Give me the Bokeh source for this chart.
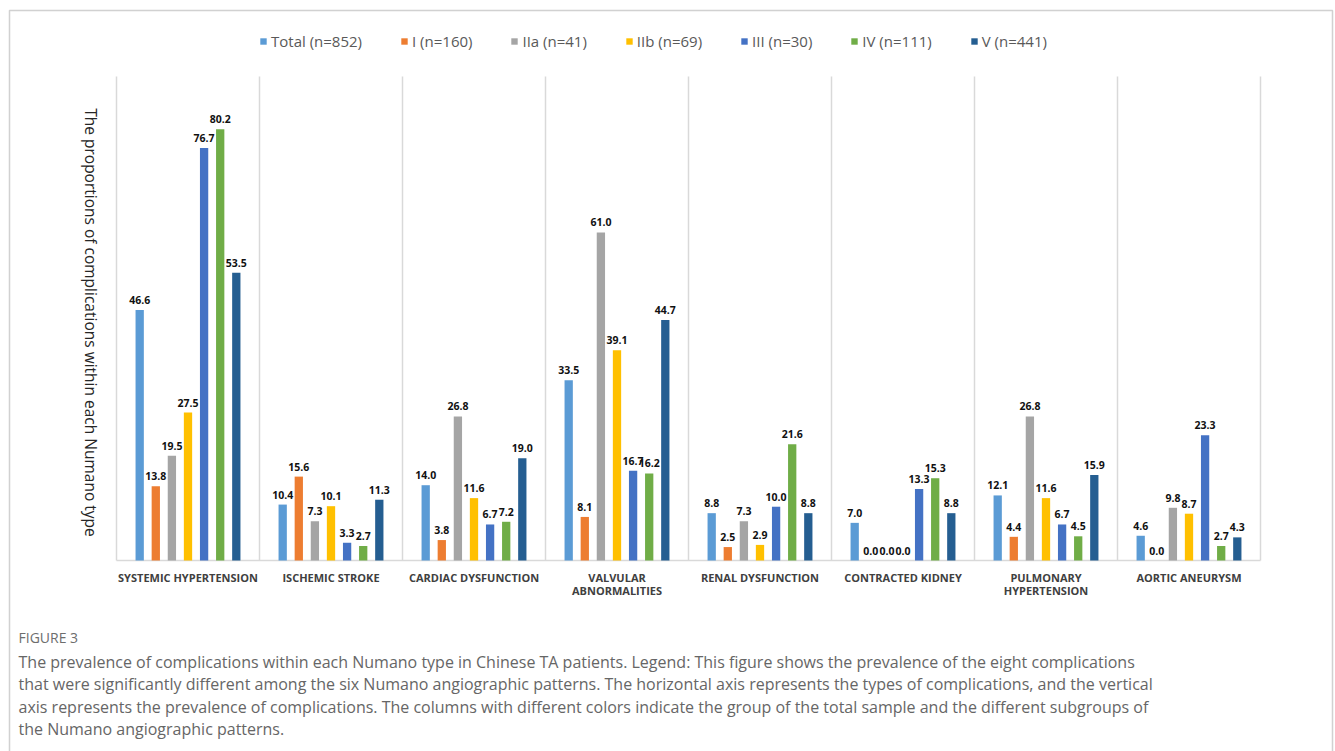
import math
import numpy as np
from bokeh.plotting import figure
from bokeh.models import (ColumnDataSource, Range1d, Legend, LegendItem, Label, BoxAnnotation)
from bokeh.core.properties import value
from bokeh.embed import file_html
from bokeh.resources import INLINE

categories = ["SYSTEMIC HYPERTENSION", "ISCHEMIC STROKE", "CARDIAC DYSFUNCTION",
              "VALVULAR ABNORMALITIES", "RENAL DYSFUNCTION", "CONTRACTED KIDNEY",
              "PULMONARY HYPERTENSION", "AORTIC ANEURYSM"]
category_line1 = ["SYSTEMIC HYPERTENSION", "ISCHEMIC STROKE", "CARDIAC DYSFUNCTION",
                  "VALVULAR", "RENAL DYSFUNCTION", "CONTRACTED KIDNEY",
                  "PULMONARY", "AORTIC ANEURYSM"]
category_line2 = ["", "", "", "ABNORMALITIES", "", "", "HYPERTENSION", ""]

series_names = ["Total (n=852)", "I (n=160)", "IIa (n=41)", "IIb (n=69)",
                "III (n=30)", "IV (n=111)", "V (n=441)"]
total = [46.6, 10.4, 14.0, 33.5, 8.8, 7.0, 12.1, 4.6]
type_i = [13.8, 15.6, 3.8, 8.1, 2.5, 0.0, 4.4, 0.0]
type_iia = [19.5, 7.3, 26.8, 61.0, 7.3, 0.0, 26.8, 9.8]
type_iib = [27.5, 10.1, 11.6, 39.1, 2.9, 0.0, 11.6, 8.7]
type_iii = [76.7, 3.3, 6.7, 16.7, 10.0, 13.3, 6.7, 23.3]
type_iv = [80.2, 2.7, 7.2, 16.2, 21.6, 15.3, 4.5, 2.7]
type_v = [53.5, 11.3, 19.0, 44.7, 8.8, 8.8, 15.9, 4.3]
series_values = [total, type_i, type_iia, type_iib, type_iii, type_iv, type_v]
colors = ["#5B9BD5", "#ED7D31", "#A5A5A5", "#FFC000", "#4472C4", "#70AD47", "#255E91"]

y_max = 90
y_title = "The proportions of complications within each Numano type"
caption_head = "FIGURE 3"
caption_lines = [
    "The prevalence of complications within each Numano type in Chinese TA patients. Legend: This figure shows the prevalence of the eight complications",
    "that were significantly different among the six Numano angiographic patterns. The horizontal axis represents the types of complications, and the vertical",
    "axis represents the prevalence of complications. The columns with different colors indicate the group of the total sample and the different subgroups of",
    "the Numano angiographic patterns.",
]

# ---- layout (pixels) ----
W, H = 1335, 751
plot_left, plot_right, plot_top, plot_bottom = 116, 1260, 76, 560
n = len(categories)
px_x = (plot_right - plot_left) / n
px_y = (plot_bottom - plot_top) / y_max

p = figure(width=W, height=H, output_backend="svg", toolbar_location=None,
           x_axis_location=None, y_axis_location=None,
           x_range=Range1d(-plot_left / px_x, n + (W - plot_right) / px_x),
           y_range=Range1d(-(H - plot_bottom) / px_y, y_max + plot_top / px_y),
           min_border=0, min_border_left=0, min_border_right=0,
           min_border_top=0, min_border_bottom=0)
p.outline_line_color = None
p.xgrid.visible = False
p.ygrid.visible = False
p.background_fill_color = "white"
p.border_fill_color = "white"

centers = np.arange(n) + 0.5
bounds = np.arange(n + 1)

# category separators (vertical grid) and baseline
p.segment(x0=bounds, y0=np.zeros(n + 1), x1=bounds, y1=np.full(n + 1, y_max),
          line_color="#d9d9d9", line_width=1.5)
p.segment(x0=[0], y0=[0], x1=[n], y1=[0], line_color="#d9d9d9", line_width=1.5)

# category labels
cat_src = ColumnDataSource(dict(x=centers, y=np.zeros(n), l1=category_line1, l2=category_line2))
for col, off in (("l1", 9), ("l2", 22)):
    p.text(x="x", y="y", text=col, source=cat_src, text_align="center", text_baseline="top",
           y_offset=off, text_font=value("Open Sans"), text_font_style="bold",
           text_font_size="11px", text_color="#404040")

step = 0.1126
bar_w = 0.058
renderers = []
for k, (name, vals, col) in enumerate(zip(series_names, series_values, colors)):
    off = (k - 3) * step
    src = ColumnDataSource(dict(x=centers + off, val=vals, lbl=[f"{v:.1f}" for v in vals]))
    r = p.vbar(x="x", top="val", width=bar_w, source=src, fill_color=col, line_color=None)
    p.text(x="x", y="val", text="lbl", source=src,
           text_align="center", text_baseline="bottom", y_offset=-6,
           text_font=value("Open Sans"), text_font_style="bold",
           text_font_size="10.5px", text_color="#111111")
    renderers.append(r)

legend = Legend(items=[LegendItem(label=nm, renderers=[r]) for nm, r in zip(series_names, renderers)],
                orientation="horizontal", location=(259, H - 51),
                glyph_width=8, glyph_height=8, label_standoff=4, spacing=38,
                label_text_font="Open Sans", label_text_font_size="15px",
                label_text_color="#595959", label_height=16,
                border_line_color=None, background_fill_alpha=0, padding=0, margin=0)
p.add_layout(legend)

p.add_layout(Label(x=90, y=H - 322, x_units="screen", y_units="screen", text=y_title,
                   angle=-math.pi / 2, text_align="center", text_baseline="middle",
                   text_font="Open Sans", text_font_size="15.5px", text_color="#262626"))

p.add_layout(Label(x=18, y=H - 637, x_units="screen", y_units="screen", text=caption_head,
                   text_align="left", text_baseline="middle",
                   text_font="Open Sans", text_font_size="14px", text_color="#6d6d6d"))
for j, line in enumerate(caption_lines):
    p.add_layout(Label(x=18, y=H - 661 - 22.6 * j, x_units="screen", y_units="screen", text=line,
                       text_align="left", text_baseline="middle",
                       text_font="Open Sans", text_font_size="16px", text_color="#666666"))

p.add_layout(BoxAnnotation(left=9, right=1332, top=H - 10, bottom=-20,
                           left_units="screen", right_units="screen",
                           top_units="screen", bottom_units="screen",
                           fill_alpha=0, line_color="#666666", line_width=1.5))

open("out.html", "w").write(file_html(p, INLINE))
